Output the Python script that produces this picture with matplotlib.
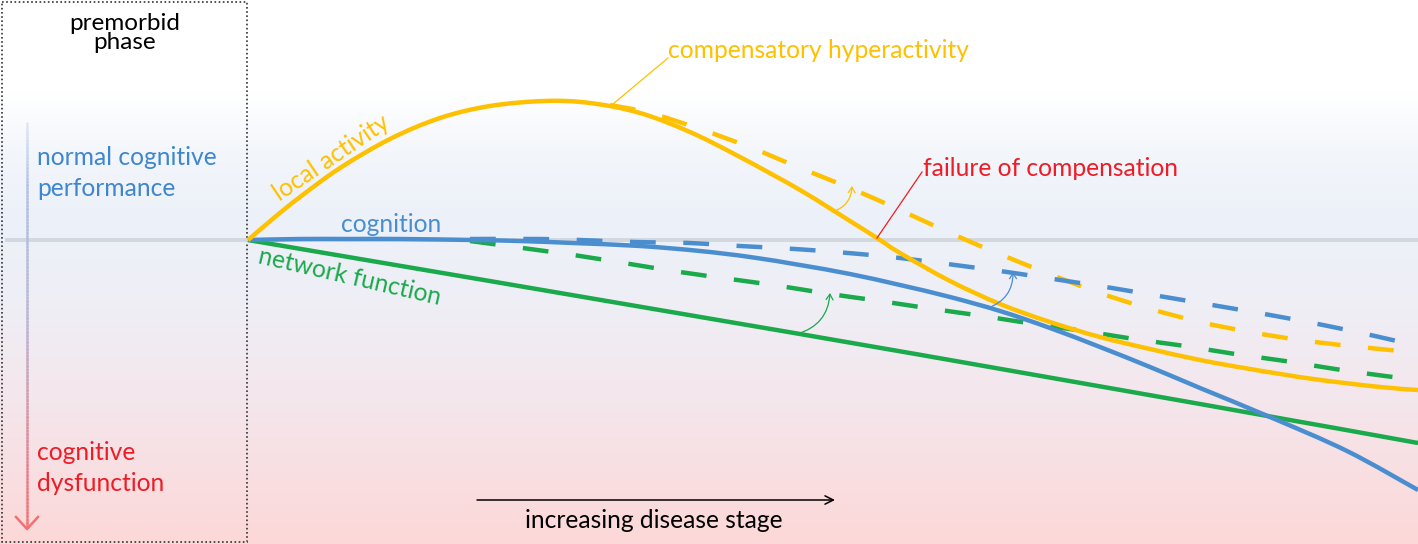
import matplotlib.pyplot as plt
import numpy as np
from matplotlib.colors import LinearSegmentedColormap
from matplotlib.collections import LineCollection
from matplotlib.patches import FancyArrowPatch, Rectangle, PathPatch
from matplotlib.path import Path

plt.rcParams["font.family"] = ["Lato", "DejaVu Sans"]

# curves: x = disease stage (px), y = level (px, down = worse)
local_x = [248, 275, 300, 340, 390, 440, 490, 545, 590, 640, 690, 740, 800, 850, 877,
           900, 950, 1000, 1050, 1100, 1150, 1200, 1250, 1313, 1380, 1418]
local_y = [240, 217, 197, 168, 139, 118, 106, 101, 103, 113, 132, 157, 190, 221, 238,
           253, 281, 304, 322, 337, 349, 360, 369, 379, 387, 390]

hyper_x = [610, 650, 700, 752, 800, 850, 900, 948, 997, 1047, 1097, 1147, 1200, 1250,
           1300, 1350, 1411]
hyper_y = [105, 113, 129, 148, 168, 188, 210, 232, 253, 273, 292, 308, 322, 332,
           340, 346, 352]

cog_x = [248, 300, 350, 400, 473, 520, 573, 640, 700, 750, 800, 850, 900, 950, 1000,
         1050, 1100, 1150, 1200, 1270, 1347, 1418]
cog_y = [240, 239, 239, 239, 240, 241, 243, 246, 251, 257, 265, 274, 285, 297, 311,
         328, 347, 367, 388, 417, 451, 490]

cog_comp_x = [470, 540, 580, 635, 690, 740, 795, 848, 900, 955, 1007, 1060, 1112,
              1165, 1218, 1270, 1323, 1375, 1418]
cog_comp_y = [239, 239, 240, 242, 243, 246, 249, 253, 258, 265, 272, 280, 288,
              297, 306, 315, 325, 336, 346]

net_x = [248, 800, 1200, 1418]
net_y = [240, 334, 404, 443]

net_comp_x = [470, 530, 580, 630, 680, 730, 780, 830, 880, 933, 983, 1034, 1084,
              1134, 1185, 1235, 1285, 1335, 1385, 1410]
net_comp_y = [241, 249, 256, 264, 272, 279, 286, 294, 301, 309, 316, 324, 331,
              339, 346, 354, 361, 369, 376, 379]

YELLOW = "#ffc000"
BLUE = "#4a8ed0"
GREEN = "#1aa94b"
RED = "#ee1c25"
TBLUE = "#3f86cf"


def smooth_path(xs, ys):
    # Catmull-Rom through the read points, drawn as cubic Bezier segments
    p = np.column_stack([xs, ys]).astype(float)
    verts = [p[0]]
    codes = [Path.MOVETO]
    for i in range(len(p) - 1):
        p0 = p[i - 1] if i > 0 else p[i]
        p3 = p[i + 2] if i + 2 < len(p) else p[i + 1]
        c1 = p[i] + (p[i + 1] - p0) / 6
        c2 = p[i + 1] - (p3 - p[i]) / 6
        verts += [c1, c2, p[i + 1]]
        codes += [Path.CURVE4] * 3
    return Path(verts, codes)


fig = plt.figure(figsize=(14.18, 5.44), dpi=100)
ax = fig.add_axes([0, 0, 1, 1])
ax.set_xlim(0, 1418)
ax.set_ylim(544, 0)
ax.axis("off")

# background gradient
bg = LinearSegmentedColormap.from_list("bg", [
    (0.0, "#ffffff"), (0.17, "#ffffff"), (0.28, "#f3f6fb"), (0.40, "#ecf1f9"),
    (0.55, "#efeff6"), (0.74, "#f4e6ec"), (1.0, "#fdd8d8")])
grad = np.linspace(0, 1, 256).reshape(-1, 1)
ax.imshow(grad, cmap=bg, extent=[0, 1418, 544, 0], aspect="auto", zorder=0)

# premorbid box
ax.add_patch(Rectangle((1.5, 1.5), 245.5, 540.5, fill=False, ls=(0, (1, 1.5)),
                       lw=1.2, ec="#333333", zorder=1))

# baseline
ax.plot([5, 1418], [240, 240], color="#d3d7de", lw=2.8, zorder=1,
        solid_capstyle="butt")

# vertical gradient arrow
yy = np.linspace(122, 528, 120)
segs = [[(27, yy[i]), (27, yy[i + 1])] for i in range(len(yy) - 1)]
acmap = LinearSegmentedColormap.from_list("ar", [
    (0.0, "#dfe6f4"), (0.15, "#afc1e2"), (0.5, "#b9b3cf"), (1.0, "#f46e72")])
lc = LineCollection(segs, colors=acmap(np.linspace(0, 1, len(segs))), lw=1.8, zorder=2)
ax.add_collection(lc)
ax.plot([16, 27, 38], [517, 529, 517], color="#f46e72", lw=1.8, zorder=2)

# curves
lw = 3.2
dash = (0, (5.8, 6.2))
for xs, ys, c, ls, z in [(hyper_x, hyper_y, YELLOW, dash, 3),
                         (cog_comp_x, cog_comp_y, BLUE, dash, 3),
                         (net_comp_x, net_comp_y, GREEN, dash, 3),
                         (net_x, net_y, GREEN, "-", 4),
                         (cog_x, cog_y, BLUE, "-", 4),
                         (local_x, local_y, YELLOW, "-", 5)]:
    ax.add_patch(PathPatch(smooth_path(xs, ys), fill=False, ec=c, lw=lw, ls=ls,
                           capstyle="butt", zorder=z))

# small compensation arrows
for (x0, y0), (x1, y1), c in [((832, 212), (852, 186), YELLOW),
                              ((988, 308), (1013, 272), BLUE),
                              ((797, 334), (830, 293), GREEN)]:
    ax.add_patch(FancyArrowPatch((x0, y0), (x1, y1), arrowstyle="->,head_length=4,head_width=2.5",
                                 connectionstyle="arc3,rad=0.35", color=c, lw=0.9,
                                 shrinkA=0, shrinkB=0, zorder=6))

# leader lines
ax.plot([613, 668], [104, 58], color=YELLOW, lw=0.9, zorder=6)
ax.plot([877, 922], [238, 172], color=RED, lw=0.9, zorder=6)

fs = 17.7
ax.text(125, 33, "premorbid\nphase", ha="center", va="center", fontsize=17.5,
        linespacing=0.9, color="black")
ax.text(37, 173, "normal cognitive\nperformance", ha="left", va="center",
        fontsize=fs, linespacing=1.42, color=TBLUE)
ax.text(37, 468, "cognitive\ndysfunction", ha="left", va="center",
        fontsize=fs, linespacing=1.42, color=RED)
ax.text(668, 50, "compensatory hyperactivity", ha="left", va="center",
        fontsize=fs, color=YELLOW)
ax.text(923, 168, "failure of compensation", ha="left", va="center",
        fontsize=fs, color=RED)
ax.text(331, 158, "local activity", ha="center", va="center", fontsize=fs,
        rotation=34, color=YELLOW, rotation_mode="anchor")
ax.text(391, 225, "cognition", ha="center", va="center", fontsize=fs, color=BLUE)
ax.text(350, 277, "network function", ha="center", va="center", fontsize=fs,
        rotation=-13, color=GREEN, rotation_mode="anchor")

ax.annotate("", xy=(835, 500), xytext=(477, 500),
            arrowprops=dict(arrowstyle="->,head_length=0.6,head_width=0.3",
                            color="black", lw=1.1, shrinkA=0, shrinkB=0))
ax.text(654, 520, "increasing disease stage", ha="center", va="center",
        fontsize=fs, color="black")

fig.savefig("out.png", dpi=100)
